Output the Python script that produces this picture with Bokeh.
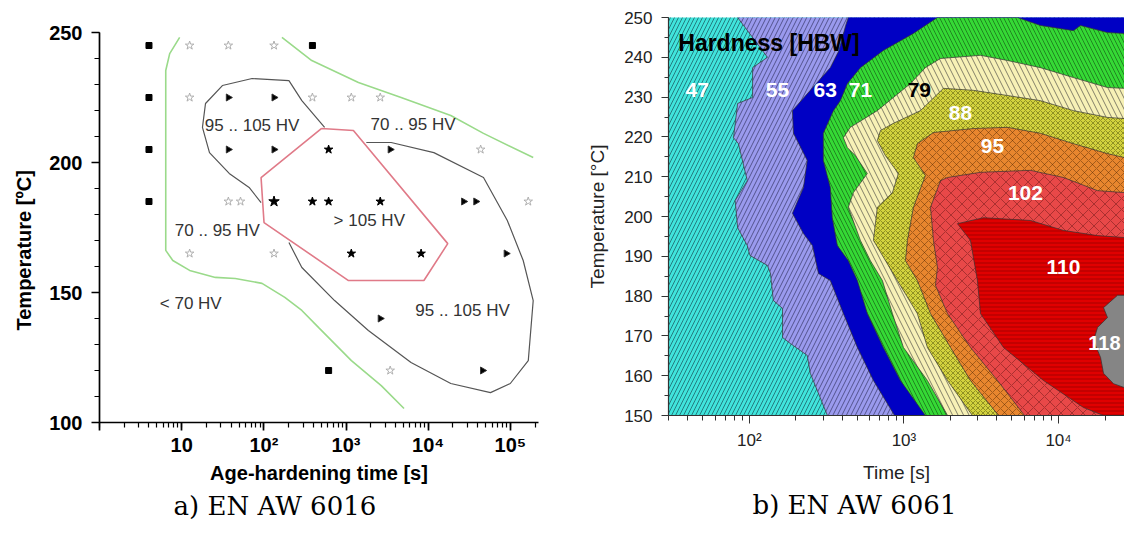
from bokeh.plotting import figure
from bokeh.layouts import row, column
from bokeh.models import FixedTicker, LogTicker, Title, Range1d
from bokeh.core.properties import value
from bokeh.embed import file_html
from bokeh.resources import INLINE

# ===================== a) EN AW 6016 =====================
# ageing time [s] / temperature [C] of the experiments, by marker kind
sq_t = [4, 4, 4, 4, 390, 614]
sq_T = [245, 225, 205, 185, 245, 120]
open_t = [12.5, 37, 133, 12.5, 390, 1160, 2610, 43500, 37, 52, 165000, 12.5, 133, 3450]
open_T = [245, 245, 245, 225, 225, 225, 225, 205, 185, 185, 185, 165, 165, 120]
half_t = [37, 133, 37, 133, 3450, 27000, 38000, 89000, 2610, 45900]
half_T = [225, 225, 205, 205, 205, 185, 185, 165, 140, 120]
star_t = [614, 390, 614, 2610, 1160, 8200]
star_T = [205, 185, 185, 185, 165, 165]
bigstar_t = [133]
bigstar_T = [185]

# iso-hardness boundaries
green1_t = [9.45, 7.15, 6.4, 6.4, 6.4, 7.8, 12.5, 25.7, 44.9, 95, 180, 290, 465, 1163, 2683, 5080]
green1_T = [248.1, 241.9, 235.4, 204.6, 166.2, 162.3, 158.5, 155.8, 155.4, 153.5, 148.1, 143.1, 136.5, 123.8, 114.2, 105.4]
green2_t = [166, 383, 1416, 4680, 18840, 47100, 189700]
green2_T = [248.1, 239.2, 230.8, 225.0, 218.1, 211.2, 201.9]
grey1_t = [92.5, 66.2, 37.9, 21.8, 17.9, 19.5, 31.3, 72, 202, 290, 549]
grey1_T = [184.6, 190.4, 195.8, 203.8, 213.5, 222.7, 229.6, 232.3, 231.5, 223.8, 213.5]
grey2_t = [1766, 3540, 11720, 47100, 91800, 143300, 189700, 165200, 99800, 57300, 18840, 6180, 1870, 726, 290, 202]
grey2_T = [207.7, 207.7, 203.8, 194.2, 177.7, 162.3, 146.9, 123.8, 115.0, 111.5, 115.0, 123.1, 135.4, 146.9, 159.6, 169.2]
red_t = [505, 1230, 17300, 8870, 1072, 100.5, 92.5, 505]
red_T = [213.1, 212.3, 168.8, 154.6, 154.6, 176.9, 194.2, 213.1]

zone_labels = ["95 .. 105 HV", "70 .. 95 HV", "> 105 HV", "70 .. 95 HV", "< 70 HV", "95 .. 105 HV"]
zone_t = [72, 6550, 1920, 27.2, 12.9, 26200]
zone_T = [214.2, 214.6, 177.7, 173.8, 145.8, 143.1]

# ===================== b) EN AW 6061 =====================
# contour boundaries (time [s], temperature [C]) between hardness bands, bottom edge first
b55_t = [320, 248, 237, 184, 164, 164, 143, 137, 131, 101, 97, 84, 81, 97, 85, 79, 84, 105, 105, 131, 84]
b55_T = [150, 160.6, 165.1, 168.1, 169.6, 176.9, 178.9, 185.7, 187.7, 190.2, 192.7, 197.2, 204, 209, 218.3, 219.8, 228.4, 229.9, 237.4, 240, 250]
b63_t = [870, 635, 500, 406, 334, 280, 256, 224, 190, 224, 237, 193, 190, 248, 334, 380, 420, 437]
b63_T = [150, 158.8, 167.1, 175.6, 183.9, 185.7, 192.7, 195.7, 200.8, 207.3, 214.1, 220.9, 226.6, 231.7, 237.4, 241.7, 248, 250]
b71_t = [1377, 949, 736, 580, 500, 437, 371, 344, 334, 301, 301, 350, 388, 431, 523, 736, 1152, 1648,
         5430, 7645, 12500, 13870, 20760, 26730]
b71_T = [150, 158.8, 167.1, 175.6, 183.9, 188.9, 192.7, 199.7, 207.3, 214.1, 220.9, 226.6, 229.1, 233.4, 237.4, 241.7, 246, 250,
         250, 248, 246.7, 248, 246.2, 246]
b79_t = [1914, 1419, 993, 843, 726, 607, 523, 437, 471, 580, 485, 431, 406, 450, 673, 1102, 1377, 1723,
         3129, 4677, 7645, 12500, 20760, 26730]
b79_T = [150, 158.8, 167.1, 175.6, 183.9, 188.9, 194, 202.3, 206, 210.8, 215.3, 217.3, 219.8, 222.4, 226.6, 233.4, 237.4, 239.7,
         240.5, 239.2, 237.4, 234.9, 232.4, 232.2]
b88_t = [2775, 1914, 1419, 1222, 907, 635, 673, 843, 921, 759, 673, 705, 855, 1279, 1803, 2816, 4677, 7645, 12500, 20760, 26730]
b88_T = [150, 158.8, 167.1, 175.6, 183.9, 194, 202.3, 206, 210.8, 215.3, 219.1, 221.6, 223.4, 226.6, 232.2, 231.7, 230.4, 229.1, 226.6, 224.9, 224.6]
b95_t = [4090, 2694, 2001, 1486, 1222, 1023, 1054, 1152, 1377, 1152, 1222, 1553, 2816, 4677, 7645, 12500, 20760, 26730]
b95_T = [150, 158.8, 167.1, 175.6, 183.9, 188.9, 194, 202.3, 210.3, 214.8, 218.3, 221.1, 222.1, 222.4, 220.9, 218.3, 215.8, 214.8]
b102_t = [6026, 4030, 2694, 1914, 1600, 1648, 1553, 1486, 1723, 1914, 3129, 6590, 10770, 17880, 26730]
b102_T = [150, 158.8, 167.1, 175.6, 182.7, 187.2, 194, 202.3, 209, 209.8, 211.1, 211.6, 209.8, 206.5, 206]
b110_t = [19560, 14510, 7995, 4407, 3129, 2990, 2816, 2694, 2220, 3273, 6590, 10770, 17880, 26730]
b110_T = [150, 152, 158.8, 167.1, 175.6, 183.9, 189.7, 194, 198.2, 199.7, 199, 196.5, 195.2, 194.7]
b118_t = [26730, 24100, 19560, 20760, 17880, 16860, 18710, 19560, 22700, 26730]
b118_T = [180.2, 180.2, 177.1, 174.6, 172.1, 168.8, 164.6, 160.6, 158, 157]

band_labels = ["47", "55", "63", "71", "79", "88", "95", "102", "110", "118"]
band_label_t = [46, 152, 310, 523, 1259, 2322, 3741, 6110, 10770, 15600]
band_label_T = [231.7, 231.7, 231.7, 231.7, 231.7, 225.9, 217.8, 205.8, 187.2, 168.1]

SANS = value("Liberation Sans")
H = 530

# ---------------- left figure ----------------
p1 = figure(width=560, height=H, x_axis_type="log", x_range=Range1d(1, 2.2e5), y_range=Range1d(100, 250),
            output_backend="svg", toolbar_location=None,
            min_border_left=96, min_border_right=22, min_border_top=32, min_border_bottom=H - 422)
p1.outline_line_color = None
p1.grid.visible = False

p1.line(green1_t, green1_T, line_color="#9ada8a", line_width=1.6)
p1.line(green2_t, green2_T, line_color="#9ada8a", line_width=1.6)
p1.line(grey1_t, grey1_T, line_color="#555555", line_width=1.2)
p1.line(grey2_t, grey2_T, line_color="#555555", line_width=1.2)
p1.line(red_t, red_T, line_color="#e07a88", line_width=1.6)

p1.scatter(sq_t, sq_T, marker="square", size=6, fill_color="black", line_color="black")
p1.scatter(open_t, open_T, marker="star", size=9, fill_color=None, line_color="#b0b0b0", line_width=1)
p1.scatter(half_t, half_T, marker="triangle", angle=-1.5708, size=7, fill_color="black", line_color="#333333")
p1.scatter(star_t, star_T, marker="star", size=9, fill_color="black", line_color="black")
p1.scatter(bigstar_t, bigstar_T, marker="star", size=11, fill_color="black", line_color="black")

p1.text(zone_t, zone_T, text=zone_labels, text_align="center", text_baseline="middle",
        text_font=SANS, text_font_size="17px", text_color="#333333")

for ax in (p1.xaxis[0], p1.yaxis[0]):
    ax.axis_line_width = 1.7
    ax.major_tick_line_width = 1.7
    ax.minor_tick_line_width = 1.2
    ax.major_tick_in = 0
    ax.minor_tick_in = 0
    ax.major_label_text_font = "Liberation Sans"
    ax.major_label_text_font_style = "bold"
    ax.major_label_text_font_size = "20px"
    ax.major_label_text_color = "black"
    ax.axis_label_text_font = "Liberation Sans"
    ax.axis_label_text_font_style = "bold"
    ax.axis_label_text_font_size = "20px"
    ax.axis_label_text_color = "black"
p1.xaxis.major_tick_out = 8
p1.xaxis.minor_tick_out = 5
p1.yaxis.major_tick_out = 8
p1.yaxis.minor_tick_out = 5
p1.yaxis.ticker = FixedTicker(ticks=[100, 150, 200, 250], minor_ticks=list(range(100, 251, 10)))
p1.xaxis.ticker = LogTicker(num_minor_ticks=10)
p1.xaxis.major_label_overrides = {1: "", 10: "10", 100: "10²", 1000: "10³", 10000: "10⁴", 100000: "10⁵"}
p1.xaxis.axis_label = "Age-hardening time [s]"
p1.yaxis.major_label_standoff = 9
p1.xaxis.major_label_standoff = 3
p1.xaxis.axis_label_standoff = 3
p1.add_layout(Title(text="Temperature [ºC]", align="left", offset=92, vertical_align="middle",
                    text_font="Liberation Sans", text_font_size="20px", text_font_style="bold",
                    text_color="black", standoff=22), "left")
p1.add_layout(Title(text="a) EN AW 6016", align="left", offset=74, text_font="DejaVu Serif",
                    text_font_size="26px", text_font_style="normal", text_color="black", standoff=5), "below")

# ---------------- right figure ----------------
T_LOW, T_HIGH, X_FAR = 140, 260, 1e7
p2 = figure(width=564, height=H, x_axis_type="log", x_range=Range1d(30, 26730), y_range=Range1d(150, 250),
            output_backend="svg", toolbar_location=None,
            min_border_left=108, min_border_right=0, min_border_top=17, min_border_bottom=H - 415)
p2.outline_line_color = None
p2.grid.visible = False


def region(ts, Ts):
    top = T_HIGH if Ts[-1] >= 250 else Ts[-1]
    xs = [ts[0]] + list(ts) + [ts[-1], X_FAR, X_FAR]
    ys = [T_LOW] + list(Ts) + [top, top, T_LOW]
    return xs, ys


EDGE = dict(line_color="#333333", line_width=0.7)
# base band (47)
p2.patch([1, 1, X_FAR, X_FAR], [T_LOW, T_HIGH, T_HIGH, T_LOW], fill_color="#40e4dc",
         hatch_pattern="/", hatch_scale=8, hatch_color="#14414a", hatch_alpha=0.8, hatch_weight=0.8, line_color=None)
styles = [
    (b55_t, b55_T, dict(fill_color="#9a9aee", hatch_pattern="/", hatch_scale=9, hatch_color="#22224a", hatch_alpha=0.75, hatch_weight=0.8)),
    (b63_t, b63_T, dict(fill_color="#0000c4")),
    (b71_t, b71_T, dict(fill_color="#35d935", hatch_pattern="\\", hatch_scale=8, hatch_color="#104410", hatch_alpha=0.7, hatch_weight=0.8)),
    (b79_t, b79_T, dict(fill_color="#f7f1b6", hatch_pattern="\\", hatch_scale=11, hatch_color="#333333", hatch_alpha=0.75, hatch_weight=0.8)),
    (b88_t, b88_T, dict(fill_color="#d3d23e", hatch_pattern="x", hatch_scale=5, hatch_color="#333300", hatch_alpha=0.6, hatch_weight=0.7)),
    (b95_t, b95_T, dict(fill_color="#e8862e", hatch_pattern="x", hatch_scale=8, hatch_color="#4a2200", hatch_alpha=0.55, hatch_weight=0.8)),
    (b102_t, b102_T, dict(fill_color="#e84848", hatch_pattern="x", hatch_scale=11, hatch_color="#5a1010", hatch_alpha=0.55, hatch_weight=0.8)),
    (b110_t, b110_T, dict(fill_color="#e00000", hatch_pattern="-", hatch_scale=4, hatch_color="#550000", hatch_alpha=0.6, hatch_weight=0.7)),
]
for ts, Ts, st in styles:
    xs, ys = region(ts, Ts)
    p2.patch(xs, ys, **st, **EDGE)
p2.patch(b118_t + [X_FAR, X_FAR], b118_T + [b118_T[-1], b118_T[0]], fill_color="#858585", **EDGE)

band_colors = ["white", "white", "white", "white", "black", "white", "white", "white", "white", "white"]
p2.text(band_label_t[:-1], band_label_T[:-1], text=band_labels[:-1], text_align="center", text_baseline="middle",
        text_font=SANS, text_font_style="bold", text_font_size="21px", text_color=band_colors[:-1])
p2.text(band_label_t[-1:], band_label_T[-1:], text=band_labels[-1:], text_align="left", text_baseline="middle",
        text_font=SANS, text_font_style="bold", text_font_size="20px", text_color="white")
p2.text([34.7], [243.5], text=["Hardness [HBW]"], text_align="left", text_baseline="middle",
        text_font=SANS, text_font_style="bold", text_font_size="23px", text_color="black")

for ax in (p2.xaxis[0], p2.yaxis[0]):
    ax.axis_line_width = 1.2
    ax.axis_line_color = "#333333"
    ax.major_tick_line_color = "#333333"
    ax.minor_tick_line_color = "#333333"
    ax.major_tick_in = 0
    ax.minor_tick_in = 0
    ax.major_label_text_font = "Liberation Sans"
    ax.major_label_text_font_size = "17px"
    ax.major_label_text_color = "#222222"
    ax.axis_label_text_font = "Liberation Sans"
    ax.axis_label_text_font_style = "normal"
    ax.axis_label_text_font_size = "19px"
    ax.axis_label_text_color = "#222222"
p2.xaxis.major_tick_out = 8
p2.xaxis.minor_tick_out = 5
p2.yaxis.major_tick_out = 7
p2.yaxis.minor_tick_out = 4
p2.yaxis.ticker = FixedTicker(ticks=list(range(150, 251, 10)), minor_ticks=list(range(150, 251, 5)))
p2.xaxis.ticker = LogTicker(num_minor_ticks=10)
p2.xaxis.major_label_overrides = {100: "10²", 1000: "10³", 10000: "10⁴"}
p2.xaxis.axis_label = "Time [s]"
p2.yaxis.axis_label = "Temperature [°C]"
p2.yaxis.major_label_standoff = 9
p2.yaxis.axis_label_standoff = 13
p2.xaxis.major_label_standoff = 7
p2.xaxis.axis_label_standoff = 9
p2.add_layout(Title(text="b) EN AW 6061", align="left", offset=84, text_font="DejaVu Serif",
                    text_font_size="26px", text_font_style="normal", text_color="black", standoff=4), "below")

layout = row(column(p1), column(p2))
open("out.html", "w").write(file_html(layout, INLINE))
